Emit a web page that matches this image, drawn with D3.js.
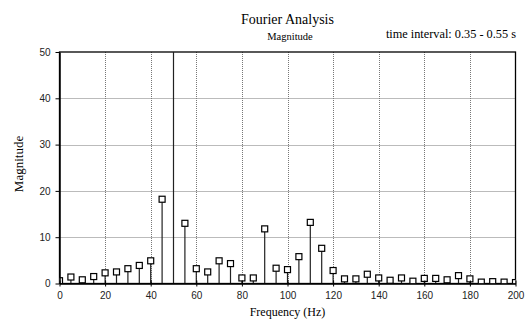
<!DOCTYPE html>
<html>
<head>
<meta charset="utf-8">
<script src="https://cdn.jsdelivr.net/npm/d3@7"></script>
<style>
  body { margin: 0; background: #fff; }
  svg { display: block; }
</style>
</head>
<body>
<svg id="chart"></svg>
<script>
// spectrum values, one per 5 Hz bin
const frequencies = d3.range(0, 201, 5)
const magnitudes = [
  0.6, 1.4, 0.8, 1.5, 2.3, 2.5, 3.2, 3.9, 4.9, 18.2,
  70, 13.0, 3.2, 2.5, 4.9, 4.3, 1.2, 1.2, 11.8, 3.3,
  3.0, 5.8, 13.2, 7.6, 2.8, 1.0, 1.0, 2.0, 1.2, 0.7,
  1.2, 0.5, 1.1, 1.1, 0.8, 1.7, 1.0, 0.3, 0.4, 0.3, 0.2
]
const xTicks = [0, 20, 40, 60, 80, 100, 120, 140, 160, 180, 200]
const yTicks = [0, 10, 20, 30, 40, 50]

const width = 526
const height = 324

const svg = d3.select('#chart').attr('width', width).attr('height', height)

const x = d3.scaleLinear().domain([0, 200]).range([59.5, 515.5])
const y = d3.scaleLinear().domain([0, 50]).range([283.5, 52])

const serif = '"Liberation Serif", "Times New Roman", serif'
const sans = '"Liberation Sans", Arial, sans-serif'

// clip for stems that run past the top
svg.append('clipPath').attr('id', 'plot-clip')
  .append('rect')
  .attr('x', x(0)).attr('y', y(50))
  .attr('width', x(200) - x(0)).attr('height', y(0) - y(50))

// grid, dotted
const grid = svg.append('g').attr('stroke', '#777').attr('stroke-width', 1).attr('stroke-dasharray', '1,1')
grid.selectAll('line.v')
  .data(xTicks.filter(d => d > 0 && d < 200))
  .enter().append('line')
  .attr('x1', d => Math.round(x(d)) + 0.5).attr('x2', d => Math.round(x(d)) + 0.5)
  .attr('y1', y(50)).attr('y2', y(0))
grid.selectAll('line.h')
  .data(yTicks.filter(d => d > 0 && d < 50))
  .enter().append('line')
  .attr('y1', d => Math.round(y(d)) + 0.5).attr('y2', d => Math.round(y(d)) + 0.5)
  .attr('x1', x(0)).attr('x2', x(200))

// frame
svg.append('rect')
  .attr('x', x(0)).attr('y', y(50))
  .attr('width', x(200) - x(0)).attr('height', y(0) - y(50))
  .attr('fill', 'none').attr('stroke', '#000').attr('stroke-width', 1.3)

// stems
const stems = svg.append('g').attr('clip-path', 'url(#plot-clip)')
stems.selectAll('line')
  .data(frequencies)
  .enter().append('line')
  .attr('x1', d => x(d)).attr('x2', d => x(d))
  .attr('y1', y(0))
  .attr('y2', (d, i) => y(magnitudes[i]))
  .attr('stroke', '#222').attr('stroke-width', 1.2)

// markers (only those inside the range)
stems.selectAll('rect')
  .data(frequencies.filter((d, i) => magnitudes[i] <= 50))
  .enter().append('rect')
  .attr('x', d => x(d) - 3)
  .attr('y', d => y(magnitudes[frequencies.indexOf(d)]) - 3)
  .attr('width', 6).attr('height', 6)
  .attr('fill', '#fff').attr('stroke', '#000').attr('stroke-width', 1.2)

// axes
const xAxis = svg.append('g')
  .attr('transform', `translate(0,${y(0)})`)
  .call(d3.axisBottom(x).tickValues(xTicks).tickSize(3).tickSizeOuter(0).tickPadding(5))
xAxis.select('.domain').attr('stroke', '#000').attr('stroke-width', 1.5)
xAxis.selectAll('.tick line').attr('y1', -3).attr('stroke', '#000')
xAxis.selectAll('text').attr('font-family', sans).attr('font-size', 10).attr('fill', '#222')

const yAxis = svg.append('g')
  .attr('transform', `translate(${x(0)},0)`)
  .call(d3.axisLeft(y).tickValues(yTicks).tickSize(4).tickSizeOuter(0).tickPadding(5))
yAxis.select('.domain').attr('stroke', '#000').attr('stroke-width', 1.5)
yAxis.selectAll('.tick line').attr('stroke', '#000')
yAxis.selectAll('text').attr('font-family', sans).attr('font-size', 10).attr('fill', '#222')

// titles
svg.append('text')
  .attr('x', 287.5).attr('y', 23.5)
  .attr('text-anchor', 'middle')
  .attr('font-family', serif).attr('font-size', 14)
  .text('Fourier Analysis')

svg.append('text')
  .attr('x', 290).attr('y', 40)
  .attr('text-anchor', 'middle')
  .attr('font-family', serif).attr('font-size', 10.5)
  .text('Magnitude')

svg.append('text')
  .attr('x', 516).attr('y', 38)
  .attr('text-anchor', 'end')
  .attr('font-family', serif).attr('font-size', 12.3)
  .text('time interval: 0.35 - 0.55 s')

svg.append('text')
  .attr('x', (x(0) + x(200)) / 2).attr('y', 316)
  .attr('text-anchor', 'middle')
  .attr('font-family', serif).attr('font-size', 12)
  .text('Frequency (Hz)')

svg.append('text')
  .attr('transform', 'translate(22.5,164) rotate(-90)')
  .attr('text-anchor', 'middle')
  .attr('font-family', serif).attr('font-size', 13)
  .text('Magnitude')
</script>
</body>
</html>
